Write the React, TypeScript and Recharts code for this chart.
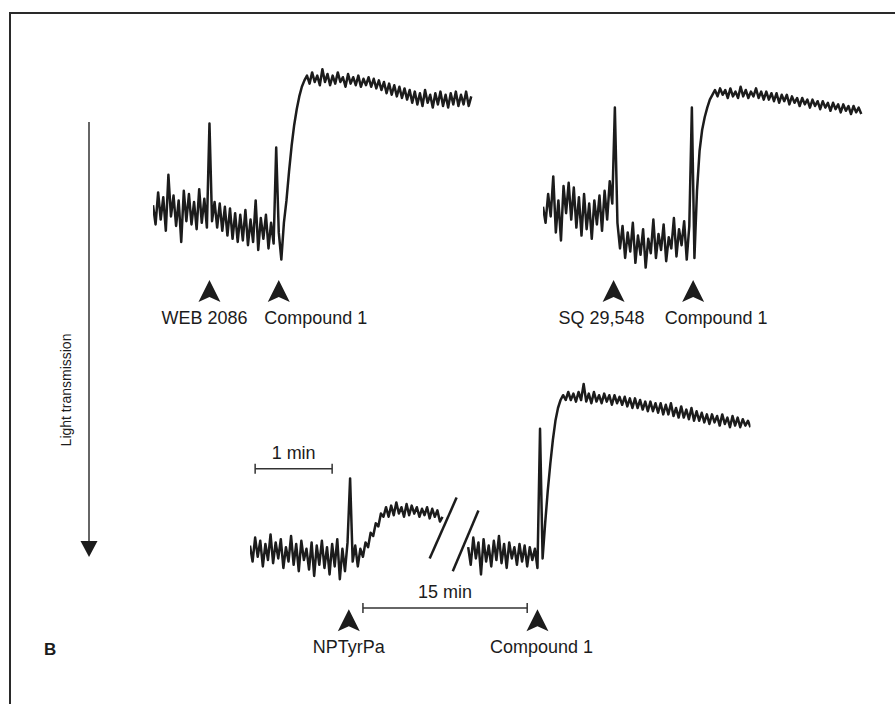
import { LineChart, Line, XAxis, YAxis, ReferenceLine } from 'recharts'

// aggregation traces, one reading every 2 s, in units of light transmission
const SAMPLE_S = 2

// WEB 2086 (t=44) then compound 1 (t=98)
const traceA = [
  3, -9, 11, -6, 8, -13, 22, -4, 9, -10, 6, -20, 12, -7, 10, -9, 5, -12, 13, -8, 7, -11,
  54,
  -7, 5, -11, 4, -13, 2, -16, 1, -18, -2, -20, -3,
  -19, 0, -22, -6, -20, 6, -25, -5, -18, -3, -24, -8, -21,
  39,
  -14, -31, -8, 6, 24, 40, 53, 63, 71, 77, 81, 84,
  79, 86, 80, 84, 78, 88, 80, 85, 78, 84, 79, 86, 80, 83, 77, 85, 79, 83, 78, 84, 77, 82, 78, 83, 77,
  82, 76, 81, 75, 80, 73, 79, 72, 78, 71, 77, 70, 76, 69, 75,
  67, 74, 66, 73, 65, 75, 67, 72, 64, 73, 66, 74, 65, 72, 64, 73, 66, 74, 65, 72, 66, 74, 65, 71,
]

// SQ 29,548 (t=56) then compound 1 (t=116)
const traceB = [
  2, -8, 10, -4, 21, -14, 6, -19, 15, -2, 17, -6, 14, -11, 8, -16, 10, -12, 4, -18, 6, -9, 9, -13, 12, -6, 18, 4,
  64,
  -8,
  -24, -10, -30, -14, -26, -8, -33, -16, -28, -12, -36, -18, -27, -6, -30, -15, -25, -9, -32, -17, -24, -5, -29, -12, -22, -7, -31, -10,
  64,
  -30, 12, 37, 50, 58, 64, 69, 72, 75,
  71, 76, 72, 75, 70, 76, 71, 74, 70, 77, 71, 75, 70, 74, 71, 76, 70, 74, 69,
  74, 69, 73, 68, 73, 67, 72, 68, 72, 66, 71, 67, 70, 65, 70, 66, 69, 64, 69, 65, 68, 63, 68, 64,
  67, 62, 67, 63, 66, 61, 66, 62, 65, 60, 65, 61, 64, 60,
]

// NPTyrPa (t=78), 15 min break (null), then compound 1 (t=226)
const traceC = [
  4, -6, 9, -3, 7, -9, 5, -5, 11, -7, 6, -4, 8, -10, 3, -6, 10, -8, 5, -12, 7, -5, 2, -11, 6, -15, 4, -8, 7, -10, 3, -14, 5, -9, 8, -17, 2, -12, 6,
  46,
  -6, 4, -9, 2,
  -3, 6, 3, 12, 10, 18, 16, 24, 22,
  28, 22, 29, 23, 31, 24, 28, 22, 30, 23, 29, 24, 28, 22, 27, 23, 28, 21, 27, 22, 26, 19, 22,
  null, null, null, null, null, null, null, null, null,
  3, -8, 9, -4, 6, -14, 8, -6, 4, -9, 7, -5, 10, -7, 5, -10, 6, -4, 3, -8, 5, -6, 4, -9, 3, -5, 2, -10,
  77,
  -4, 18, 38, 55, 70, 82, 90, 95, 98,
  95, 100, 95, 99, 94, 100, 95, 105, 94, 99, 93, 100, 94, 98, 93, 99, 94, 98, 92, 98, 93, 97, 92,
  97, 91, 96, 90, 96, 90, 95, 89, 94, 88, 94, 88, 93, 87, 93, 86, 92, 86, 93, 85, 90, 84, 91, 84, 89, 83,
  90, 82, 88, 82, 87, 81, 86, 80, 86, 81, 85, 79, 86, 80, 84, 78, 85, 79, 84, 78, 83, 79, 82, 78,
]

const eventsA = [{ t: 44, agent: 'WEB 2086' }, { t: 98, agent: 'Compound 1' }]
const eventsB = [{ t: 55, agent: 'SQ 29,548' }, { t: 117, agent: 'Compound 1' }]
const eventsC = [{ t: 77, agent: 'NPTyrPa' }, { t: 224, agent: 'Compound 1' }]

// time bars (s) for the bottom trace
const oneMin = { from: 4, to: 64, level: 52, label: '1 min' }
const fifteenMin = { from: 88, to: 216, level: -35, label: '15 min' }
const breakMarks = [
  [{ x: 140, y: -4 }, { x: 161, y: 34 }],
  [{ x: 158, y: -12 }, { x: 178, y: 26 }],
]

const PX_PER_S = 77 / 60
const PX_PER_UNIT = 1.6
const FONT = '"Liberation Sans", Arial, Helvetica, sans-serif'
const INK = '#1c1c1c'

function Marker(p: any) {
  const x = p.x1
  const bottom = Math.max(p.y1, p.y2)
  const tip = bottom - 58
  return (
    <g>
      <path
        d={`M${x},${tip} L${x + 11},${tip + 22} L${x},${tip + 17} L${x - 11},${tip + 22} Z`}
        fill={INK}
      />
      <text x={x + p.shift} y={bottom - 14} textAnchor="middle" fontFamily={FONT} fontSize={18} fill={INK}>
        {p.label}
      </text>
    </g>
  )
}

function ScaleBar(p: any) {
  const y = p.y1
  return (
    <g>
      <line x1={p.x1} y1={y} x2={p.x2} y2={y} stroke="#333" strokeWidth={1.5} />
      <line x1={p.x1} y1={y - 5} x2={p.x1} y2={y + 5} stroke="#333" strokeWidth={1.5} />
      <line x1={p.x2} y1={y - 5} x2={p.x2} y2={y + 5} stroke="#333" strokeWidth={1.5} />
      <text x={(p.x1 + p.x2) / 2} y={y - 10} textAnchor="middle" fontFamily={FONT} fontSize={18} fill={INK}>
        {p.label}
      </text>
    </g>
  )
}

function Trace({ data, events, shifts, left, top, tMax, vMin, vMax, children }: any) {
  const rows = data.map((v: number | null, i: number) => ({ t: i * SAMPLE_S, v }))
  return (
    <div style={{ position: 'absolute', left, top }}>
      <LineChart
        width={tMax * PX_PER_S}
        height={(vMax - vMin) * PX_PER_UNIT}
        data={rows}
        margin={{ top: 0, right: 0, bottom: 0, left: 0 }}
      >
        <XAxis dataKey="t" type="number" domain={[0, tMax]} hide allowDataOverflow />
        <YAxis type="number" domain={[vMin, vMax]} hide allowDataOverflow />
        <Line
          type="linear"
          dataKey="v"
          stroke={INK}
          strokeWidth={2.5}
          strokeLinejoin="round"
          dot={false}
          connectNulls={false}
          isAnimationActive={false}
        />
        {events.map((e: any, i: number) => (
          <ReferenceLine
            key={e.agent + i}
            x={e.t}
            shape={(p: any) => <Marker {...p} label={e.agent} shift={shifts[i]} />}
          />
        ))}
        {children}
      </LineChart>
    </div>
  )
}

export default function App() {
  return (
    <div style={{ position: 'absolute', left: 0, top: 0, width: 895, height: 704, background: '#fff' }}>
      <svg width={895} height={704} style={{ position: 'absolute', left: 0, top: 0 }}>
        <path d="M10,704 L10,13 L895,13" stroke="#2a2a2a" strokeWidth={2} fill="none" />
        <line x1={89} y1={122} x2={89} y2={544} stroke="#333" strokeWidth={1.5} />
        <path d="M80.5,541 L97.5,541 L89,557 Z" fill={INK} />
        <text
          transform="translate(71,390) rotate(-90)"
          textAnchor="middle"
          fontFamily={FONT}
          fontSize={14}
          fill={INK}
        >
          Light transmission
        </text>
        <text x={44} y={655} fontFamily={FONT} fontWeight="bold" fontSize={17} fill={INK}>
          B
        </text>
      </svg>

      <Trace data={traceA} events={eventsA} shifts={[-5, 37]} left={153} top={34} tMax={250} vMin={-80} vMax={110} />
      <Trace data={traceB} events={eventsB} shifts={[-12, 23]} left={543} top={34} tMax={250} vMin={-80} vMax={110} />
      <Trace data={traceC} events={eventsC} shifts={[0, 4]} left={250} top={376} tMax={390} vMin={-72} vMax={110}>
        <ReferenceLine
          segment={[{ x: oneMin.from, y: oneMin.level }, { x: oneMin.to, y: oneMin.level }]}
          shape={(p: any) => <ScaleBar {...p} label={oneMin.label} />}
        />
        <ReferenceLine
          segment={[{ x: fifteenMin.from, y: fifteenMin.level }, { x: fifteenMin.to, y: fifteenMin.level }]}
          shape={(p: any) => <ScaleBar {...p} label={fifteenMin.label} />}
        />
        {breakMarks.map((seg, i) => (
          <ReferenceLine key={'brk' + i} segment={seg} stroke={INK} strokeWidth={2.5} />
        ))}
      </Trace>
    </div>
  )
}
